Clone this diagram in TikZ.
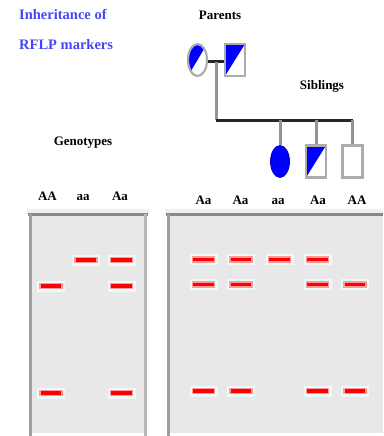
\documentclass[tikz,border=0pt]{standalone}
\usepackage{fontspec}
\setmainfont{Liberation Serif}
\usetikzlibrary{shapes.geometric}

\definecolor{titleblue}{RGB}{70,70,245}
\definecolor{gelgray}{RGB}{232,232,232}
\definecolor{rimgray}{RGB}{136,136,136}
\definecolor{halo}{RGB}{236,250,250}

\begin{document}
\begin{tikzpicture}[
    x=1pt, y=-1pt,
    lbl/.style={font=\bfseries\fontsize{13}{15}\selectfont, anchor=base, inner sep=0},
    ttl/.style={font=\bfseries\fontsize{14.5}{17}\selectfont, text=titleblue, anchor=base west, inner sep=0},
    halfpaint/.style={path picture={\fill[blue] (path picture bounding box.north west) -- (path picture bounding box.north east) -- (path picture bounding box.south west) -- cycle;}},
    female/.style={ellipse, draw=gray!65, line width=2.2pt, minimum width=19, minimum height=32, inner sep=0},
    male/.style={rectangle, draw=gray!65, line width=2.2pt, minimum width=20, minimum height=32, inner sep=0},
    mateline/.style={line width=3pt, black!85},
    dropline/.style={line width=3pt, gray!85},
    band/.style={rectangle, inner sep=0, minimum width=22, minimum height=5, fill=red, draw=red!40, line width=1.2pt, preaction={draw=halo, line width=6pt}}
]
    \useasboundingbox (0,0) rectangle (383,436);

    % Heading
    \node[ttl] (head1) at (19,20) {Inheritance of};
    \node[ttl] (head2) at (19,50) {RFLP markers};

    % Parents
    \node[lbl] (par) at (220,20) {Parents};
    \node[female, halfpaint] (mother) at (197.5,60) {};
    \node[male, halfpaint] (father) at (235,60) {};

    % Siblings
    \node[lbl] (sib) at (322,89) {Siblings};
    \node[female, fill=blue, draw=blue!80!black, line width=0.8pt] (kid1) at (280,161.5) {};
    \node[male, halfpaint] (kid2) at (316,161.5) {};
    \node[male] (kid3) at (352.5,161.5) {};

    % Pedigree lines
    \coordinate (mate) at (216,62);
    \coordinate (fam) at (216,120);
    \draw[mateline] (mother.east |- mate) -- (father.west |- mate);
    \draw[dropline] (mate) -- (fam);
    \draw[mateline] (fam) -- (fam -| kid3.north);
    \draw[dropline] (fam -| kid1.north) -- (kid1.north);
    \draw[dropline] (fam -| kid2.north) -- (kid2.north);
    \draw[dropline] (fam -| kid3.north) -- (kid3.north);

    % Gels
    \fill[gray!12] (27,209) rectangle (149,214);
    \fill[gray!12] (165,209) rectangle (383,214);
    \fill[gelgray] (30,214) rectangle (146,433);
    \fill[gelgray] (168,214) rectangle (383,433);
    \draw[rimgray, line width=3pt] (28,214.5) -- (148,214.5);
    \draw[gray!75, line width=3pt] (30.5,214) -- (30.5,436);
    \draw[gray!55, line width=3pt] (145.5,214) -- (145.5,436);
    \draw[rimgray, line width=3pt] (166,214.5) -- (383,214.5);
    \draw[gray!75, line width=3pt] (168.5,214) -- (168.5,436);

    % Genotype lanes
    \node[lbl] (geno) at (83,145) {Genotypes};
    \node[lbl] (g1) at (47.5,200) {AA};
    \node[lbl] (g2) at (83,200) {aa};
    \node[lbl] (g3) at (120,200) {Aa};

    \node[band] (g1b) at (51,286) {};
    \node[band] (g1c) at (51,393) {};
    \node[band] (g2a) at (86,260) {};
    \node[band] (g3a) at (121.5,260) {};
    \node[band] (g3b) at (121.5,286) {};
    \node[band] (g3c) at (121.5,393) {};

    % Family lanes
    \node[lbl] (f1) at (203.5,204) {Aa};
    \node[lbl] (f2) at (240.5,204) {Aa};
    \node[lbl] (f3) at (278,204) {aa};
    \node[lbl] (f4) at (318,204) {Aa};
    \node[lbl] (f5) at (357,204) {AA};

    \node[band] (f1a) at (203.5,259.5) {};
    \node[band] (f1b) at (203.5,284.5) {};
    \node[band] (f1c) at (203.5,391) {};
    \node[band] (f2a) at (241,259.5) {};
    \node[band] (f2b) at (241,284.5) {};
    \node[band] (f2c) at (241,391) {};
    \node[band] (f3a) at (279.5,259.5) {};
    \node[band] (f4a) at (317.5,259.5) {};
    \node[band] (f4b) at (317.5,284.5) {};
    \node[band] (f4c) at (317.5,391) {};
    \node[band] (f5b) at (355,284.5) {};
    \node[band] (f5c) at (355,391) {};
\end{tikzpicture}
\end{document}
